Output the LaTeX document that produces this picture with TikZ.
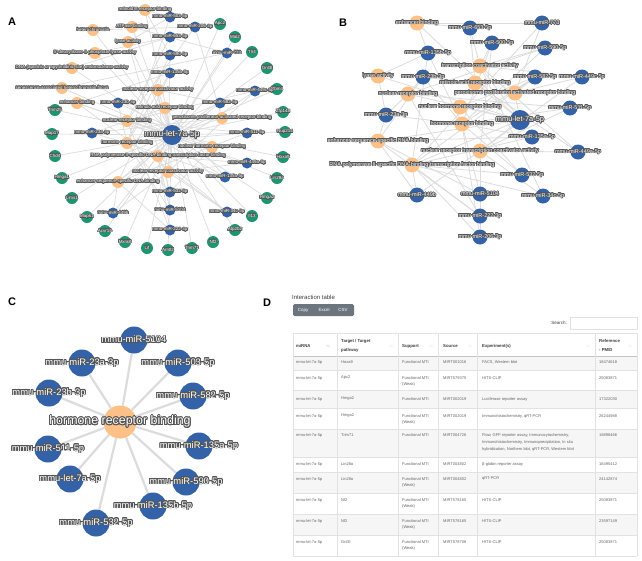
\documentclass[tikz,border=0pt]{standalone}
\usepackage{fontspec}
\setmainfont{Liberation Sans}
\usepackage[copies]{contour}
\usetikzlibrary{backgrounds}
\definecolor{nblue}{RGB}{52,98,168}
\definecolor{norange}{RGB}{253,192,134}
\definecolor{ngreen}{RGB}{28,150,110}
\definecolor{halo}{RGB}{85,85,85}
\definecolor{edgec}{RGB}{220,220,220}
\definecolor{tgray}{RGB}{100,100,100}
\definecolor{hgray}{RGB}{60,60,60}
\definecolor{lgray}{RGB}{226,226,226}
\definecolor{rowc}{RGB}{246,246,246}
\definecolor{btn}{RGB}{108,117,125}
\newcommand\hl[1]{\contour{halo}{#1}}
\tikzset{
  goA/.style={circle,fill=norange,minimum size=12pt,inner sep=0pt},
  miA/.style={circle,fill=nblue,minimum size=11pt,inner sep=0pt},
  tgA/.style={circle,fill=ngreen,minimum size=12pt,inner sep=0pt},
  hubA/.style={circle,fill=nblue,minimum size=20pt,inner sep=0pt},
  lblA/.style={text=white,inner sep=0pt,font=\fontsize{4.5}{5}\selectfont\contourlength{0.14em}},
  hublblA/.style={text=white,inner sep=0pt,font=\fontsize{8.5}{9}\selectfont\contourlength{0.09em}},
  goB/.style={circle,fill=norange,minimum size=15pt,inner sep=0pt},
  miB/.style={circle,fill=nblue,minimum size=15pt,inner sep=0pt},
  hubB/.style={circle,fill=nblue,minimum size=20pt,inner sep=0pt},
  lblB/.style={text=white,inner sep=0pt,font=\fontsize{5.5}{6}\selectfont\contourlength{0.12em}},
  hublblB/.style={text=white,inner sep=0pt,font=\fontsize{7.4}{8}\selectfont\contourlength{0.09em}},
  goC/.style={circle,fill=norange,minimum size=33pt,inner sep=0pt},
  miC/.style={circle,fill=nblue,minimum size=27pt,inner sep=0pt},
  lblC/.style={text=white,inner sep=0pt,font=\fontsize{9.4}{10}\selectfont\contourlength{0.085em}},
  hublblC/.style={text=white,inner sep=0pt,font=\fontsize{12.4}{13}\selectfont\contourlength{0.07em}},
  edgeA/.style={draw=edgec,line width=0.7pt},
  edgeB/.style={draw=edgec,line width=0.8pt},
  edgeC/.style={draw=edgec,line width=2.2pt},
  panel/.style={font=\bfseries\fontsize{11}{12}\selectfont,text=black,inner sep=0pt},
  tcell/.style={anchor=west,inner sep=0pt,text=tgray,font=\fontsize{4}{5}\selectfont},
  thead/.style={anchor=west,inner sep=0pt,text=hgray,font=\bfseries\fontsize{4.3}{5}\selectfont},
  sorticon/.style={inner sep=0pt,text=lgray!70!gray,font=\fontsize{4}{5}\selectfont},
}
\begin{document}
\begin{tikzpicture}[x=1pt,y=-1pt]
\useasboundingbox (0,0) rectangle (642,560);

% ---------------- panel letters
\node[panel] (LA) at (12,22) {A};
\node[panel] (LB) at (343,23) {B};
\node[panel] (LC) at (12,302) {C};
\node[panel] (LD) at (267,303) {D};

% ================= PANEL A nodes
\foreach \n/\x/\y in {a_rxr/145/10, a_het/93/30, a_atp/132/27, a_lya/128/42, a_dlya/95/53, a_dna/72/68, a_sen/62/88, a_enh/77/103, a_nrtc/158/90, a_rar/165/108, a_ppar/222/118, a_nrb/127/121, a_hrb/127/143, a_nhrb/212/147, a_rna/158/156, a_tca/168/172, a_esd/118/182}
  \node[goA] (\n) at (\x,\y) {};
\foreach \n/\x/\y in {g1/220/24, g2/235/37, g3/252/52, g4/267/68, g5/277/89, g6/283/112, g7/285/132, g8/283/157, g9/277/178, g10/267/198, g11/252/216, g12/235/230, g13/213/242, g14/192/248, g15/168/250, g16/147/248, g17/125/242, g18/105/231, g19/87/217, g20/72/198, g21/62/178, g22/55/156, g23/52/134, g24/55/110}
  \node[tgA] (\n) at (\x,\y) {};
\foreach \n/\x/\y in {b503/170/17, b206/195/27, b653/170/37, b773/227/53, b590/170/55, b135b/170/73, b449c/255/91, b23b/118/103, b582/220/103, b23a/92/133, b511/247/133, b449a/247/163, b135a/225/177, b532/170/192, b5104/170/210, b34c/227/212, b222/170/230, b449b/113/213}
  \node[miA] (\n) at (\x,\y) {};
\node[hubA] (let7a) at (172,135) {};

\begin{pgfonlayer}{background}
\fill[white] (0,0) rectangle (642,560);
\foreach \t in {g1,g2,g3,g4,g5,g6,g7,g8,g9,g10,g11,g12,g13,g14,g15,g16,g17,g18,g19,g20,g21,g22,g23,g24,a_rxr,a_het,a_atp,a_lya,a_dlya,a_dna,a_sen,a_enh,a_nrtc,a_rar,a_ppar,a_nrb,a_hrb,a_nhrb,a_rna,a_tca,a_esd}
  \draw[edgeA] (let7a) -- (\t);
\foreach \s/\t in {b503/a_hrb, b503/a_lya, b503/a_rxr, b206/a_ppar, b206/a_nrb, b206/a_het, b653/a_dna, b653/a_dlya, b653/a_nrb, b773/a_rna, b773/a_atp, b773/a_sen, b590/a_hrb, b590/a_rxr, b590/a_tca, b135b/a_hrb, b135b/a_esd, b135b/a_enh, b449c/a_tca, b449c/a_nrb, b449c/a_rna, b23b/a_hrb, b23b/a_rar, b23b/a_nhrb, b582/a_hrb, b582/a_esd, b582/a_nrtc, b23a/a_hrb, b23a/a_rar, b23a/a_ppar, b511/a_hrb, b511/a_esd, b511/a_nrb, b449a/a_rna, b449a/a_tca, b449a/a_enh, b135a/a_hrb, b135a/a_nrb, b135a/a_rar, b532/a_hrb, b532/a_nhrb, b532/a_lya, b5104/a_hrb, b5104/a_rna, b5104/a_nrtc, b34c/a_rna, b34c/a_tca, b34c/a_enh, b222/a_esd, b222/a_rna, b222/a_nrb, b449b/a_rna, b449b/a_tca, b449b/a_esd}
  \draw[edgeA] (\s) -- (\t);
\end{pgfonlayer}

% labels A
\foreach \n/\t in {a_rxr/{retinoid X receptor binding}, a_het/{heterochromatin}, a_atp/{ATPase binding}, a_lya/{lyase activity}, a_dlya/{5'-deoxyribose-5-phosphate lyase activity}, a_dna/{DNA-(apurinic or apyrimidinic site) endonuclease activity}, a_sen/{senescence-associated heterochromatin focus}, a_enh/{enhancer binding}, a_nrtc/{nuclear receptor coactivator activity}, a_rar/{retinoic acid receptor binding}, a_ppar/{peroxisome proliferator activated receptor binding}, a_nrb/{nuclear receptor binding}, a_hrb/{hormone receptor binding}, a_nhrb/{nuclear hormone receptor binding}, a_rna/{RNA polymerase II-specific DNA-binding transcription factor binding}, a_tca/{nuclear receptor coactivator activity}, a_esd/{enhancer sequence-specific DNA binding},
 g1/Apc2, g2/Mal2, g3/Tlr4, g4/Gnl3l, g5/Rbm4, g6/Zfp148, g7/Nup214, g8/Hoxa9, g9/Lin28a, g10/Hmga2, g11/Il13, g12/Atp2b2, g13/Nf2, g14/Trim71, g15/Arntl2, g16/Lif, g17/Mxra8, g18/Acvr1b, g19/Mapk1, g20/Lims1, g21/Hmga1, g22/Chd4, g23/Map17, g24/Trim25,
 b503/mmu-miR-503-5p, b206/mmu-miR-206-3p, b653/mmu-miR-653-5p, b773/mmu-miR-773, b590/mmu-miR-590-5p, b135b/mmu-miR-135b-5p, b449c/mmu-miR-449c-5p, b23b/mmu-miR-23b-3p, b582/mmu-miR-582-5p, b23a/mmu-miR-23a-3p, b511/mmu-miR-511-5p, b449a/mmu-miR-449a-5p, b135a/mmu-miR-135a-5p, b532/mmu-miR-532-5p, b5104/mmu-miR-5104, b34c/mmu-miR-34c-5p, b222/mmu-miR-222-3p, b449b/mmu-miR-449b}
  \node[lblA] (\n-l) at (\n) {\hl{\t}};
\node[hublblA] (let7a-l) at (let7a) {\hl{mmu-let-7a-5p}};

% ================= PANEL B nodes
\foreach \n/\x/\y in {B_enh/417/23, B_lya/378/76, B_nrb/408/94, B_tca/480/66, B_rar/475/83, B_ppar/515/93, B_nhrb/460/107, B_hrb/462/124, B_esd/378/141, B_nrtc/480/151, B_rna/412/165}
  \node[goB] (\n) at (\x,\y) {};
\foreach \n/\x/\y in {B_653/470/28, B_500/492/43, B_773/542/23, B_590/545/48, B_135b/428/53, B_23b/423/77, B_23a/386/115, B_582/535/77, B_449c/582/77, B_511/570/108, B_135a/532/137, B_449a/578/152, B_532/522/175, B_34c/543/196, B_5104/480/194, B_222/480/216, B_206/480/237, B_449b/417/195}
  \node[miB] (\n) at (\x,\y) {};
\node[hubB] (B_let) at (520,120) {};

\begin{pgfonlayer}{background}
\foreach \t in {B_enh,B_lya,B_nrb,B_tca,B_rar,B_ppar,B_nhrb,B_hrb,B_esd,B_nrtc,B_rna}
  \draw[edgeB] (B_let) -- (\t);
\foreach \s/\t in {B_653/B_enh, B_653/B_tca, B_653/B_rar, B_500/B_tca, B_500/B_hrb, B_500/B_nrtc, B_773/B_enh, B_773/B_ppar, B_773/B_rna, B_590/B_hrb, B_590/B_tca, B_590/B_nrb, B_135b/B_hrb, B_135b/B_lya, B_135b/B_enh, B_135b/B_rna, B_23b/B_hrb, B_23b/B_nrb, B_23b/B_rar, B_23b/B_esd, B_23a/B_hrb, B_23a/B_nrb, B_23a/B_esd, B_23a/B_lya, B_582/B_hrb, B_582/B_ppar, B_582/B_nhrb, B_582/B_rna, B_449c/B_tca, B_449c/B_ppar, B_449c/B_nrtc, B_511/B_hrb, B_511/B_nrb, B_511/B_nrtc, B_135a/B_hrb, B_135a/B_rna, B_135a/B_esd, B_449a/B_nrtc, B_449a/B_tca, B_449a/B_rar, B_532/B_hrb, B_532/B_nhrb, B_532/B_rna, B_34c/B_nrtc, B_34c/B_rna, B_34c/B_tca, B_5104/B_hrb, B_5104/B_nrtc, B_5104/B_esd, B_222/B_rna, B_222/B_nrb, B_222/B_esd, B_206/B_rna, B_206/B_hrb, B_206/B_nrtc, B_449b/B_rna, B_449b/B_esd, B_449b/B_nrtc}
  \draw[edgeB] (\s) -- (\t);
\end{pgfonlayer}

\foreach \n/\t in {B_enh/{enhancer binding}, B_lya/{lyase activity}, B_nrb/{nuclear receptor binding}, B_tca/{transcription coactivator activity}, B_rar/{retinoic acid receptor binding}, B_ppar/{peroxisome proliferator activated receptor binding}, B_nhrb/{nuclear hormone receptor binding}, B_hrb/{hormone receptor binding}, B_esd/{enhancer sequence-specific DNA binding}, B_nrtc/{nuclear receptor transcription coactivator activity}, B_rna/{RNA polymerase II-specific DNA-binding transcription factor binding},
 B_653/mmu-miR-653-5p, B_500/mmu-miR-500-5p, B_773/mmu-miR-773, B_590/mmu-miR-590-5p, B_135b/mmu-miR-135b-5p, B_23b/mmu-miR-23b-3p, B_23a/mmu-miR-23a-3p, B_582/mmu-miR-582-5p, B_449c/mmu-miR-449c-5p, B_511/mmu-miR-511-5p, B_135a/mmu-miR-135a-5p, B_449a/mmu-miR-449a-5p, B_532/mmu-miR-532-5p, B_34c/mmu-miR-34c-5p, B_5104/mmu-miR-5104, B_222/mmu-miR-222-3p, B_206/mmu-miR-206-3p, B_449b/mmu-miR-449b}
  \node[lblB] (\n-l) at (\n) {\hl{\t}};
\node[hublblB] (B_let-l) at (B_let) {\hl{mmu-let-7a-5p}};

% ================= PANEL C
\node[goC] (C_hrb) at (120,422) {};
\foreach \n/\x/\y in {C_5104/134/340, C_23a/82/363, C_503/178/363, C_23b/49/393, C_582/193/396, C_511/48/449, C_135a/199/446, C_let/70/479, C_590/186/482, C_135b/153/506, C_532/96/523}
  \node[miC] (\n) at (\x,\y) {};
\begin{pgfonlayer}{background}
\foreach \t in {C_5104,C_23a,C_503,C_23b,C_582,C_511,C_135a,C_let,C_590,C_135b,C_532}
  \draw[edgeC] (C_hrb) -- (\t);
\end{pgfonlayer}
\foreach \n/\t in {C_5104/mmu-miR-5104, C_23a/mmu-miR-23a-3p, C_503/mmu-miR-503-5p, C_23b/mmu-miR-23b-3p, C_582/mmu-miR-582-5p, C_511/mmu-miR-511-5p, C_135a/mmu-miR-135a-5p, C_let/mmu-let-7a-5p, C_590/mmu-miR-590-5p, C_135b/mmu-miR-135b-5p, C_532/mmu-miR-532-5p}
  \node[lblC] (\n-l) at (\n) {\hl{\t}};
\node[hublblC] (C_hrb-l) at (C_hrb) {\hl{hormone receptor binding}};

% ================= PANEL D : table
\node[anchor=west,inner sep=0pt,text=hgray,font=\fontsize{6}{7}\selectfont] (Dtitle) at (292,297) {Interaction table};
\fill[btn,rounded corners=1.5pt] (293,304) rectangle (354,316);
\node[inner sep=0pt,text=white,font=\fontsize{4.5}{5}\selectfont] (bcopy) at (303,310) {Copy};
\node[inner sep=0pt,text=white,font=\fontsize{4.5}{5}\selectfont] (bexcel) at (324,310) {Excel};
\node[inner sep=0pt,text=white,font=\fontsize{4.5}{5}\selectfont] (bcsv) at (343,310) {CSV};
\node[anchor=east,inner sep=0pt,text=hgray,font=\fontsize{4.5}{5}\selectfont] (search) at (567,323) {Search:};
\draw[lgray,line width=0.5pt] (570,317) rectangle (637,329);

% row backgrounds
\foreach \a/\b in {356/370, 390/408, 429/457, 472/493, 514/535}
  \fill[rowc] (293,\a) rectangle (637,\b);
% horizontal lines
\draw[lgray,line width=0.4pt] (293,333) -- (637,333);
\draw[lgray!70!gray,line width=0.5pt] (293,356) -- (637,356);
\foreach \yy in {370,390,408,429,457,472,493,514,535,556}
  \draw[lgray,line width=0.35pt] (293,\yy) -- (637,\yy);
% vertical lines
\foreach \xx in {293,337,398,438,477,595,637}
  \draw[lgray,line width=0.35pt] (\xx,333) -- (\xx,556);

% header
\node[thead] (h1) at (296,346) {miRNA};
\node[thead] (h2a) at (341,341) {Target / Target};
\node[thead] (h2b) at (341,350) {pathway};
\node[thead] (h3) at (402,346) {Support};
\node[thead] (h4) at (443,346) {Source};
\node[thead] (h5) at (482,346) {Experiment(s)};
\node[thead] (h6a) at (599,341) {Reference};
\node[thead] (h6b) at (599,350) {- PMID};
\node[sorticon,text=gray] (s1) at (328,346) {↑↓};
\foreach \xx in {391,431,470,588,630}
  \node[sorticon] at (\xx,346) {↑↓};

% data rows
\foreach \yy in {362,378,399,416,435,464,479,500,521,542}
  \node[tcell] at (296,\yy) {mmu-let-7a-5p};
\node[tcell] at (341,362) {Hoxa9};
\node[tcell] at (341,378) {Apc2};
\node[tcell] at (341,399) {Hmga2};
\node[tcell] at (341,416) {Hmga2};
\node[tcell] at (341,435) {Trim71};
\node[tcell] at (341,464) {Lin28a};
\node[tcell] at (341,479) {Lin28a};
\node[tcell] at (341,500) {Nf2};
\node[tcell] at (341,521) {Nf2};
\node[tcell] at (341,542) {Gnl3l};
\foreach \yy in {362,378,399,416,435,464,479,500,521,542}
  \node[tcell] at (402,\yy) {Functional MTI};
\foreach \yy in {384,422,485,506,527,548}
  \node[tcell] at (402,\yy) {(Weak)};
\node[tcell] at (443,362) {MIRT001016};
\node[tcell] at (443,378) {MIRT579375};
\node[tcell] at (443,399) {MIRT002019};
\node[tcell] at (443,416) {MIRT002019};
\node[tcell] at (443,435) {MIRT004726};
\node[tcell] at (443,464) {MIRT004802};
\node[tcell] at (443,479) {MIRT004802};
\node[tcell] at (443,500) {MIRT578165};
\node[tcell] at (443,521) {MIRT578165};
\node[tcell] at (443,542) {MIRT578708};
\node[tcell] at (482,362) {FACS, Western blot};
\node[tcell] at (482,378) {HITS-CLIP};
\node[tcell] at (482,399) {Luciferase reporter assay};
\node[tcell] at (482,416) {Immunohistochemistry, qRT-PCR};
\node[tcell] at (482,435) {Flow, GFP reporter assay, Immunocytochemistry,};
\node[tcell] at (482,442) {Immunohistochemistry, Immunoprecipitation, In situ};
\node[tcell] at (482,449) {hybridization, Northern blot, qRT-PCR, Western blot};
\node[tcell] at (482,464) {β-globin reporter assay};
\node[tcell] at (482,479) {qRT-PCR};
\node[tcell] at (482,500) {HITS-CLIP};
\node[tcell] at (482,521) {HITS-CLIP};
\node[tcell] at (482,542) {HITS-CLIP};
\node[tcell] at (599,362) {18474618};
\node[tcell] at (599,378) {25083871};
\node[tcell] at (599,399) {17322030};
\node[tcell] at (599,416) {26244988};
\node[tcell] at (599,435) {19898466};
\node[tcell] at (599,464) {16495412};
\node[tcell] at (599,479) {24142874};
\node[tcell] at (599,500) {25083871};
\node[tcell] at (599,521) {23597149};
\node[tcell] at (599,542) {25083871};
\end{tikzpicture}
\end{document}
